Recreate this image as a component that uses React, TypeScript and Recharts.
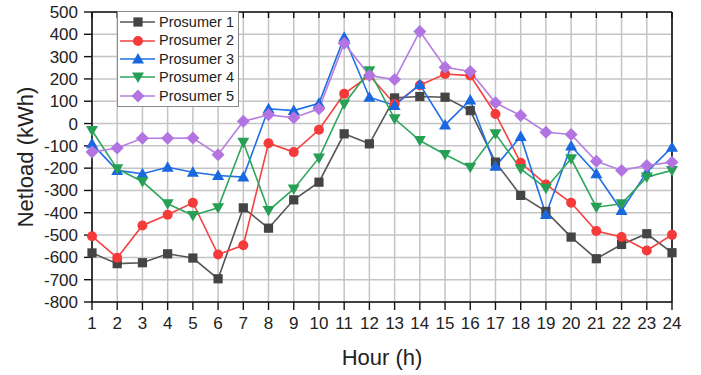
import React from 'react';
import { LineChart, Line, XAxis, YAxis, CartesianGrid, Legend } from 'recharts';

const hours = [1, 2, 3, 4, 5, 6, 7, 8, 9, 10, 11, 12, 13, 14, 15, 16, 17, 18, 19, 20, 21, 22, 23, 24];
const yTicks = [-800, -700, -600, -500, -400, -300, -200, -100, 0, 100, 200, 300, 400, 500];

const prosumer1 = [-580, -628, -624, -584, -603, -696, -378, -469, -342, -263, -46, -91, 115, 121, 118, 58, -173, -322, -394, -509, -606, -542, -494, -579];
const prosumer2 = [-505, -602, -457, -409, -355, -587, -546, -88, -128, -28, 133, 215, 88, 172, 222, 215, 43, -176, -273, -355, -482, -509, -569, -499];
const prosumer3 = [-91, -210, -225, -196, -218, -233, -240, 66, 58, 91, 387, 118, 81, 175, -6, 106, -192, -58, -408, -101, -225, -390, -218, -106];
const prosumer4 = [-31, -203, -260, -360, -412, -378, -84, -390, -293, -154, 88, 237, 21, -76, -139, -196, -46, -203, -290, -158, -375, -360, -240, -210];
const prosumer5 = [-128, -110, -66, -66, -65, -140, 10, 39, 26, 66, 360, 215, 197, 413, 252, 233, 93, 36, -39, -49, -169, -210, -188, -173];

const seriesNames = ['Prosumer 1', 'Prosumer 2', 'Prosumer 3', 'Prosumer 4', 'Prosumer 5'];
const seriesKeys = ['p1', 'p2', 'p3', 'p4', 'p5'];
const lineColors = ['#555555', '#f5403f', '#1f6fe5', '#2ea65c', '#b57ee0'];
const markerColors = ['#444444', '#f53a3a', '#1a68e0', '#27a055', '#b274e0'];
const markers = ['square', 'circle', 'triangleUp', 'triangleDown', 'diamond'];

const data = hours.map((h, i) => ({
  hour: h,
  p1: prosumer1[i],
  p2: prosumer2[i],
  p3: prosumer3[i],
  p4: prosumer4[i],
  p5: prosumer5[i],
}));

const FONT = "'Liberation Sans', Arial, sans-serif";

function markerShape(kind: string, cx: number, cy: number, color: string, key?: any) {
  switch (kind) {
    case 'square':
      return <rect key={key} x={cx - 4.6} y={cy - 4.6} width={9.2} height={9.2} fill={color} />;
    case 'circle':
      return <circle key={key} cx={cx} cy={cy} r={5} fill={color} />;
    case 'triangleUp':
      return <path key={key} d={`M${cx},${cy - 6} L${cx + 6},${cy + 4.5} L${cx - 6},${cy + 4.5} Z`} fill={color} />;
    case 'triangleDown':
      return <path key={key} d={`M${cx},${cy + 6} L${cx + 6},${cy - 4.5} L${cx - 6},${cy - 4.5} Z`} fill={color} />;
    default:
      return <path key={key} d={`M${cx},${cy - 6.5} L${cx + 6.5},${cy} L${cx},${cy + 6.5} L${cx - 6.5},${cy} Z`} fill={color} />;
  }
}

const makeDot = (kind: string, color: string) => (props: any) => {
  const { cx, cy, index } = props;
  if (cx == null || cy == null) return <g key={`d${index}`} />;
  return markerShape(kind, cx, cy, color, `d${index}`);
};

const renderLegend = () => (
  <div
    style={{
      background: '#fff',
      border: '1px solid #8a8a8a',
      padding: '1px 4px 1px 2px',
      fontFamily: FONT,
      fontSize: 14.5,
      color: '#222',
      lineHeight: '18.4px',
    }}
  >
    {seriesNames.map((name, i) => (
      <div key={name} style={{ display: 'flex', alignItems: 'center', height: 18.4 }}>
        <svg width={36} height={18} style={{ marginRight: 3 }}>
          <line x1={0} y1={9} x2={35} y2={9} stroke={lineColors[i]} strokeWidth={1.5} />
          {markerShape(markers[i], 18, 9, markerColors[i])}
        </svg>
        <span>{name}</span>
      </div>
    ))}
  </div>
);

const yLabel = (props: any) => {
  const vb = props.viewBox || {};
  const x = vb.x + 25;
  const y = vb.y + vb.height / 2;
  return (
    <text
      x={x}
      y={y}
      transform={`rotate(-90, ${x}, ${y})`}
      textAnchor="middle"
      dominantBaseline="central"
      fontFamily={FONT}
      fontSize={22}
      fill="#222"
    >
      Netload (kWh)
    </text>
  );
};

const xLabel = (props: any) => {
  const vb = props.viewBox || {};
  return (
    <text
      x={vb.x + vb.width / 2}
      y={vb.y + 55}
      textAnchor="middle"
      dominantBaseline="central"
      fontFamily={FONT}
      fontSize={22}
      fill="#222"
    >
      Hour (h)
    </text>
  );
};

export default function App() {
  return (
    <div style={{ position: 'absolute', left: 0, top: 0, background: '#fff' }}>
      <LineChart width={701} height={375} data={data} margin={{ top: 12, right: 29, bottom: 33, left: 0 }}>
        <CartesianGrid stroke="#c4c4c4" strokeWidth={1.5} />
        <XAxis
          dataKey="hour"
          type="number"
          domain={[1, 24]}
          ticks={hours}
          interval={0}
          height={40}
          tickSize={8}
          tickMargin={7}
          axisLine={{ stroke: '#111', strokeWidth: 1.6 }}
          tickLine={{ stroke: '#111', strokeWidth: 1.4 }}
          tick={{ fill: '#222', fontSize: 17, fontFamily: FONT }}
          label={xLabel}
        />
        <XAxis
          xAxisId="top"
          dataKey="hour"
          type="number"
          orientation="top"
          mirror
          domain={[1, 24]}
          ticks={hours}
          interval={0}
          tickSize={6}
          tickFormatter={() => ''}
          axisLine={{ stroke: '#111', strokeWidth: 1.6 }}
          tickLine={{ stroke: '#111', strokeWidth: 1.4 }}
        />
        <YAxis
          type="number"
          domain={[-800, 500]}
          ticks={yTicks}
          interval={0}
          width={92}
          tickSize={8}
          tickMargin={6}
          axisLine={{ stroke: '#111', strokeWidth: 1.6 }}
          tickLine={{ stroke: '#111', strokeWidth: 1.4 }}
          tick={{ fill: '#222', fontSize: 17, fontFamily: FONT }}
          label={yLabel}
        />
        <YAxis
          yAxisId="right"
          type="number"
          orientation="right"
          mirror
          domain={[-800, 500]}
          ticks={yTicks}
          interval={0}
          tickSize={7}
          tickFormatter={() => ''}
          axisLine={{ stroke: '#111', strokeWidth: 1.6 }}
          tickLine={{ stroke: '#111', strokeWidth: 1.4 }}
        />
        <Legend
          layout="vertical"
          align="center"
          verticalAlign="middle"
          content={renderLegend}
          wrapperStyle={{ left: 117, top: 11, width: 'auto' }}
        />
        {seriesKeys.map((k, i) => (
          <Line
            key={k}
            dataKey={k}
            name={seriesNames[i]}
            type="linear"
            stroke={lineColors[i]}
            strokeWidth={1.6}
            dot={makeDot(markers[i], markerColors[i])}
            activeDot={false}
            isAnimationActive={false}
          />
        ))}
      </LineChart>
    </div>
  );
}
